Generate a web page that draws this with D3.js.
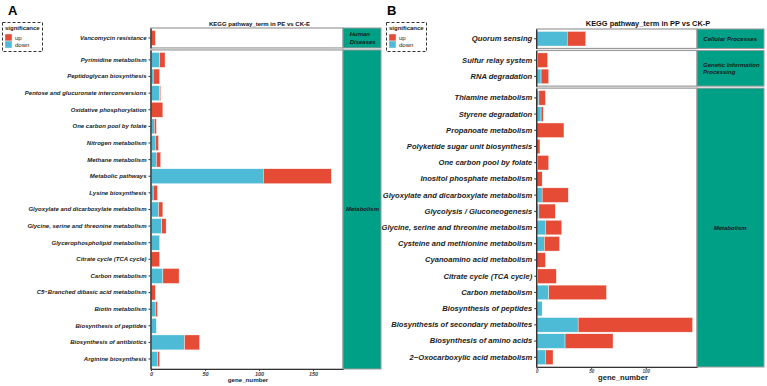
<!DOCTYPE html>
<html>
<head>
<meta charset="utf-8">
<script src="https://cdn.jsdelivr.net/npm/d3@7"></script>
<style>
  body { margin: 0; background: #fff; }
  svg { display: block; font-family: "Liberation Sans", Arial, sans-serif; }
</style>
</head>
<body>
<div id="chart"></div>
<script>
// ---- data: panel A (PE vs CK-E), top to bottom ----
const termsA = ["Vancomycin resistance", "Pyrimidine metabolism", "Peptidoglycan biosynthesis",
  "Pentose and glucuronate interconversions", "Oxidative phosphorylation", "One carbon pool by folate",
  "Nitrogen metabolism", "Methane metabolism", "Metabolic pathways", "Lysine biosynthesis",
  "Glyoxylate and dicarboxylate metabolism", "Glycine, serine and threonine metabolism",
  "Glycerophospholipid metabolism", "Citrate cycle (TCA cycle)", "Carbon metabolism",
  "C5\u2212Branched dibasic acid metabolism", "Biotin metabolism", "Biosynthesis of  peptides",
  "Biosynthesis of antibiotics", "Arginine biosynthesis"];
const groupsA = ["Human Diseases"].concat(d3.range(19).map(() => "Metabolism"));
const downA = [0, 8, 2, 8, 0, 3, 4, 5, 104, 2, 7, 10, 8, 0, 11, 0, 4, 5, 31, 6];
const upA   = [4, 5, 6, 1, 11, 2, 3, 4, 63, 4, 4, 4, 0, 8, 15, 4, 2, 0, 14, 2];
const facetsA = ["Human Diseases", "Metabolism"];
const facetLinesA = [["Human", "Diseases"], ["Metabolism"]];
const ticksA = [0, 50, 100, 150];

// ---- data: panel B (PP vs CK-P), top to bottom ----
const termsB = ["Quorum sensing", "Sulfur relay system", "RNA degradation", "Thiamine metabolism",
  "Styrene degradation", "Propanoate metabolism", "Polyketide sugar unit biosynthesis",
  "One carbon pool by folate", "Inositol phosphate metabolism", "Glyoxylate and dicarboxylate metabolism",
  "Glycolysis / Gluconeogenesis", "Glycine, serine and threonine metabolism",
  "Cysteine and methionine metabolism", "Cyanoamino acid metabolism", "Citrate cycle (TCA cycle)",
  "Carbon metabolism", "Biosynthesis of  peptides", "Biosynthesis of secondary metabolites",
  "Biosynthesis of amino acids", "2\u2212Oxocarboxylic acid metabolism"];
const groupsB = ["Cellular Processes", "Genetic Information Processing", "Genetic Information Processing"]
  .concat(d3.range(17).map(() => "Metabolism"));
const downB = [28, 1, 4, 2, 4, 0, 0, 1, 0, 5, 2, 8, 7, 0, 1, 11, 5, 38, 26, 8];
const upB   = [17, 9, 7, 6, 2, 25, 3, 10, 5, 24, 15, 15, 14, 8, 17, 53, 0, 105, 44, 7];
const facetsB = ["Cellular Processes", "Genetic Information Processing", "Metabolism"];
const facetLinesB = [["Cellular Processes"], ["Genetic Information", "Processing"], ["Metabolism"]];
const ticksB = [0, 50, 100];

const colUp = "#E64B35", colDown = "#4DBBD5", colStrip = "#00A087";

const W = 767, H = 386;
const svg = d3.select("#chart").append("svg").attr("width", W).attr("height", H);
svg.append("rect").attr("width", W).attr("height", H).attr("fill", "#fff");

function drawPanel(cfg) {
  const g = svg.append("g");
  const x = d3.scaleLinear().domain([0, cfg.xMax]).range([cfg.zeroX, cfg.right]);
  const gap = 2;
  const counts = cfg.facets.map(f => cfg.groups.filter(d => d === f).length);
  const units = counts.map(c => c + 0.2);
  const unitPx = (cfg.bottom - cfg.top - gap * (cfg.facets.length - 1)) / d3.sum(units);

  let yCur = cfg.top;
  cfg.facets.forEach((f, i) => {
    const h = units[i] * unitPx;
    const idx = cfg.terms.map((t, j) => j).filter(j => cfg.groups[j] === f);
    const y = d3.scaleBand()
      .domain(idx.map(j => cfg.terms[j]))
      .range([yCur, yCur + h])
      .paddingInner(0.1)
      .paddingOuter(0.15);

    // panel border
    g.append("rect")
      .attr("x", x(0)).attr("y", yCur)
      .attr("width", cfg.right - x(0)).attr("height", h)
      .attr("fill", "#fff").attr("stroke", "#9a9a9a").attr("stroke-width", 1.2);

    // stacked bars: down first, up on top
    idx.forEach(j => {
      const t = cfg.terms[j];
      if (cfg.down[j] > 0) {
        g.append("rect")
          .attr("x", x(0)).attr("y", y(t))
          .attr("width", x(cfg.down[j]) - x(0)).attr("height", y.bandwidth())
          .attr("fill", colDown).attr("stroke", "#fff").attr("stroke-width", 0.4);
      }
      if (cfg.up[j] > 0) {
        g.append("rect")
          .attr("x", x(cfg.down[j])).attr("y", y(t))
          .attr("width", x(cfg.down[j] + cfg.up[j]) - x(cfg.down[j])).attr("height", y.bandwidth())
          .attr("fill", colUp).attr("stroke", "#fff").attr("stroke-width", 0.4);
      }
    });

    // y axis
    const ya = g.append("g")
      .attr("transform", `translate(${x(0) - 0.5},0)`)
      .call(d3.axisLeft(y).tickSize(2).tickPadding(2).tickSizeOuter(0));
    ya.select(".domain").attr("stroke", "#333").attr("stroke-width", 1.4);
    ya.selectAll(".tick line").attr("stroke", "#333");
    ya.selectAll(".tick text")
      .attr("font-size", cfg.labelSize).attr("font-weight", "bold").attr("font-style", "italic")
      .attr("fill", "#222").attr("font-family", "Liberation Sans, Arial, sans-serif");

    // strip
    g.append("rect")
      .attr("x", cfg.right).attr("y", yCur)
      .attr("width", cfg.stripRight - cfg.right).attr("height", h)
      .attr("fill", colStrip).attr("stroke", "#9a9a9a").attr("stroke-width", 1);
    const lines = cfg.facetLines[i];
    const st = g.append("text")
      .attr("font-size", 6).attr("font-weight", "bold").attr("font-style", "italic")
      .attr("fill", "#1a1a1a");
    lines.forEach((ln, k) => {
      st.append("tspan").text(ln)
        .attr("x", 0)
        .attr("y", yCur + h / 2 + (k - (lines.length - 1) / 2) * 7.2 + 2);
    });
    const bw = st.node().getBBox().width;
    const sx = (cfg.right + cfg.stripRight) / 2 - bw / 2 + (lines.length > 1 ? 1 : 0);
    st.selectAll("tspan").attr("x", Math.max(sx, cfg.right + 3));

    yCur += h + gap;
  });

  // x axis
  const xa = g.append("g")
    .attr("transform", `translate(0,${cfg.bottom})`)
    .call(d3.axisBottom(x).tickValues(cfg.ticks).tickSize(2).tickPadding(1).tickSizeOuter(0));
  xa.select(".domain").attr("stroke", "#333").attr("stroke-width", 1.2);
  xa.selectAll(".tick line").attr("stroke", "#333");
  xa.selectAll(".tick text")
    .attr("font-size", cfg.tickSize).attr("font-style", "italic").attr("font-weight", "bold")
    .attr("fill", "#444").attr("font-family", "Liberation Sans, Arial, sans-serif");

  // axis title
  g.append("text")
    .attr("x", cfg.xTitleX).attr("y", cfg.xTitleY)
    .attr("text-anchor", "middle").attr("font-size", cfg.axisTitleSize).attr("font-weight", "bold")
    .attr("fill", "#222").text("gene_number");

  // title
  g.append("text")
    .attr("x", cfg.titleX).attr("y", 26)
    .attr("text-anchor", "middle").attr("font-size", cfg.titleSize).attr("font-weight", "bold")
    .attr("fill", "#111").text(cfg.title);

  // panel letter
  g.append("text")
    .attr("x", cfg.letterX).attr("y", 15)
    .attr("font-size", 13).attr("font-weight", "bold").attr("fill", "#000").text(cfg.letter);

  // legend
  const lg = g.append("g").attr("transform", `translate(${cfg.legendX},22)`);
  lg.append("rect").attr("x", 0.5).attr("y", 0.5).attr("width", 40).attr("height", 29)
    .attr("fill", "#fff").attr("stroke", "#333").attr("stroke-width", 1).attr("stroke-dasharray", "3,2");
  lg.append("text").attr("x", 3).attr("y", 8).attr("font-size", 6).attr("font-weight", "bold")
    .attr("fill", "#222").text("significance");
  [["up", colUp], ["down", colDown]].forEach(([lab, c], k) => {
    lg.append("rect").attr("x", 3).attr("y", 12 + k * 7).attr("width", 7).attr("height", 7)
      .attr("fill", c).attr("stroke", "#fff").attr("stroke-width", 0.4);
    lg.append("text").attr("x", 13).attr("y", 17.5 + k * 7).attr("font-size", 6)
      .attr("fill", "#222").text(lab);
  });
}

drawPanel({
  terms: termsA, groups: groupsA, down: downA, up: upA,
  facets: facetsA, facetLines: facetLinesA, ticks: ticksA,
  zeroX: 151, right: 343, stripRight: 381, top: 28, bottom: 369, xMax: 177.8,
  labelSize: 6, tickSize: 5.5, axisTitleSize: 6.2, titleSize: 6,
  xTitleX: 248, xTitleY: 382, titleX: 259.5, title: "KEGG pathway_term in PE vs CK-E",
  letter: "A", letterX: 8, legendX: 2
});

drawPanel({
  terms: termsB, groups: groupsB, down: downB, up: upB,
  facets: facetsB, facetLines: facetLinesB, ticks: ticksB,
  zeroX: 536.7, right: 697, stripRight: 764, top: 29, bottom: 367, xMax: 147,
  labelSize: 7.6, tickSize: 4.5, axisTitleSize: 7.6, titleSize: 7.4,
  xTitleX: 623, xTitleY: 380, titleX: 648, title: "KEGG pathway_term in PP vs CK-P",
  letter: "B", letterX: 387, legendX: 386
});
</script>
</body>
</html>
